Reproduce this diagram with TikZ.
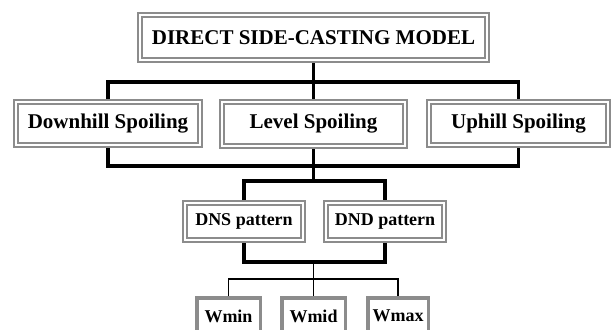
\documentclass[tikz,border=0pt]{standalone}
\usepackage{fontspec}
\setmainfont{Liberation Serif}
\definecolor{boxgray}{RGB}{140,140,140}
\begin{document}
\begin{tikzpicture}
    [
        x=1pt, y=-1pt,
        frame/.style = {draw=boxgray, double=white, line width=2.5pt, double distance=1.5pt, fill=white, shape=rectangle, inner sep=0pt, outer sep=3.2pt, font=\bfseries\fontsize{21}{24}\selectfont},
        small/.style = {frame, font=\bfseries\fontsize{18}{21}\selectfont},
        leaf/.style = {draw=boxgray, line width=3.5pt, fill=white, shape=rectangle, inner sep=0pt, outer sep=1.75pt, font=\bfseries\fontsize{18}{21}\selectfont},
        bus/.style = {line width=3.5pt},
        twig/.style = {line width=1.6pt},
    ]

    \useasboundingbox (0,0) rectangle (612,329);
    \clip (0,0) rectangle (612,329);

    \node[frame, minimum width=346.6pt, minimum height=44.6pt] (model) at (313.5,37.5) {DIRECT SIDE-CASTING MODEL};

    \node[frame, minimum width=183.6pt, minimum height=42.6pt] (down) at (108,123.5) {Downhill Spoiling};
    \node[frame, minimum width=182.6pt, minimum height=43.6pt] (level) at (313.5,124) {Level Spoiling};
    \node[frame, minimum width=178.6pt, minimum height=42.6pt] (up) at (518.5,123.5) {Uphill Spoiling};

    \node[small, minimum width=117.6pt, minimum height=36.6pt] (dns) at (244,221.5) {DNS pattern};
    \node[small, minimum width=117.6pt, minimum height=36.6pt] (dnd) at (385,221.5) {DND pattern};

    \node[leaf, minimum width=63.5pt, minimum height=36pt] (wmin) at (228.5,316) {Wmin};
    \node[leaf, minimum width=63.5pt, minimum height=36pt] (wmid) at (313.5,316) {Wmid};
    \node[leaf, minimum width=60.5pt, minimum height=36pt] (wmax) at (398,316) {Wmax};

    \coordinate (j1) at (313.5,82);
    \coordinate (j2) at (313.5,166);
    \coordinate (j3) at (313.5,181);
    \coordinate (j4) at (313.5,262);
    \coordinate (j5) at (313.5,279);

    % spoiling
    \draw[bus] (model.south) -- (j1);
    \draw[bus] (down.north) |- (j1) -| (up.north);
    \draw[bus] (j1) -- (level.north);
    \draw[bus] (down.south) |- (j2) -| (up.south);
    \draw[bus] (level.south) -- (j2);

    % patterns
    \draw[bus] (j2) -- (j3);
    \draw[bus] (dns.north) |- (j3) -| (dnd.north);
    \draw[bus] (dns.south) |- (j4) -| (dnd.south);

    % widths
    \draw[twig] (j4) -- (j5);
    \draw[twig] (wmin.north) |- (j5) -| (wmax.north);
    \draw[twig] (j5) -- (wmid.north);
\end{tikzpicture}
\end{document}
